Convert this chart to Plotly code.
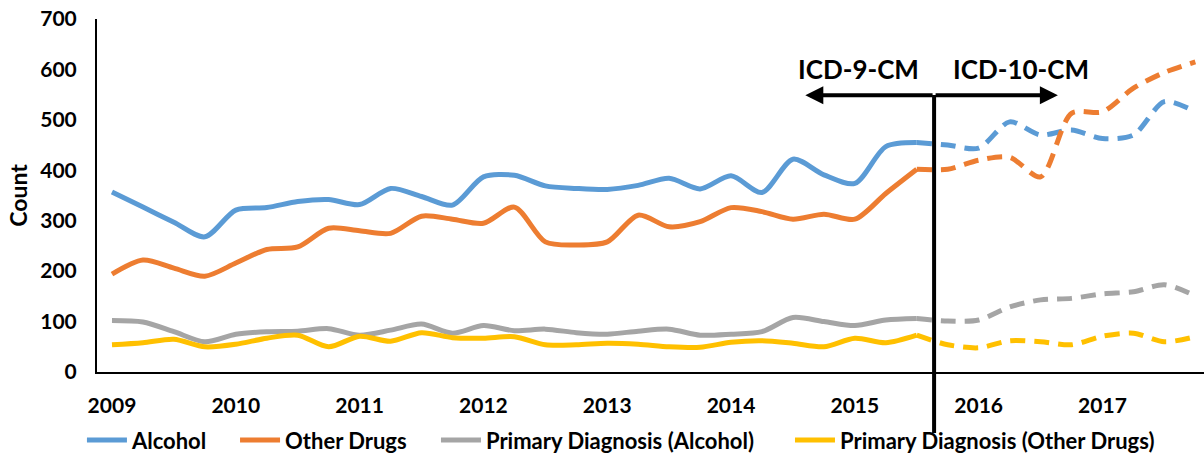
import plotly.graph_objects as go

# Quarterly data, 2009 Q1 .. 2017 Q4
quarters = [2009 + i / 4 for i in range(36)]
year_ticks = [2009, 2010, 2011, 2012, 2013, 2014, 2015, 2016, 2017]
year_labels = ["2009", "2010", "2011", "2012", "2013", "2014", "2015", "2016", "2017"]
y_ticks = [0, 100, 200, 300, 400, 500, 600, 700]

alcohol = [357, 327, 297, 268, 321, 326, 338, 342, 332, 364, 348, 331,
           387, 390, 369, 364, 362, 370, 384, 363, 389, 356, 422, 391,
           374, 447, 455, 450, 444, 496, 470, 480, 463, 470, 536, 516]
other_drugs = [194, 222, 206, 190, 216, 243, 248, 285, 280, 275, 309, 303,
               295, 327, 258, 252, 258, 311, 288, 298, 326, 318, 303, 313,
               303, 354, 402, 402, 420, 426, 387, 513, 516, 563, 594, 615]
primary_alcohol = [102, 99, 80, 60, 75, 80, 81, 86, 73, 83, 95, 77,
                   92, 82, 85, 78, 75, 81, 85, 73, 75, 80, 108, 100,
                   92, 103, 106, 101, 103, 129, 143, 146, 155, 159, 173, 151]
primary_other = [54, 58, 65, 50, 55, 67, 73, 50, 71, 61, 78, 68,
                 67, 70, 54, 54, 57, 55, 50, 49, 59, 62, 57, 50,
                 67, 58, 73, 54, 48, 62, 60, 54, 71, 77, 60, 70]

series = [
    ("Alcohol", alcohol, "#5B9BD5"),
    ("Other Drugs", other_drugs, "#ED7D31"),
    ("Primary Diagnosis (Alcohol)", primary_alcohol, "#A5A5A5"),
    ("Primary Diagnosis (Other Drugs)", primary_other, "#FFC000"),
]
split = 26  # last ICD-9-CM quarter (2015 Q3)
icd_change = 2015.64
arrow_left, arrow_right, arrow_y = 2014.60, 2016.64, 549

FONT = "Lato"
legend_ids = ["legend", "legend2", "legend3", "legend4"]
legend_x = [-0.0136, 0.1247, 0.3062, 0.626]

fig = go.Figure()
for (name, vals, color), lid in zip(series, legend_ids):
    fig.add_trace(go.Scatter(
        x=quarters[:split + 1], y=vals[:split + 1], name=name, mode="lines",
        line=dict(color=color, width=5, shape="spline", smoothing=0.8),
        showlegend=True, legend=lid))
for name, vals, color in series:
    fig.add_trace(go.Scatter(
        x=quarters[split:], y=vals[split:], name=name, mode="lines",
        line=dict(color=color, width=5, shape="spline", smoothing=0.8, dash="15px,9px"),
        showlegend=False))

fig.add_shape(type="line", xref="x", yref="paper", x0=icd_change, x1=icd_change,
              y0=-0.173, y1=0.785, line=dict(color="black", width=4))
for tip in (arrow_left, arrow_right):
    fig.add_annotation(x=tip, y=arrow_y, ax=icd_change, ay=arrow_y, xref="x", yref="y",
                       axref="x", ayref="y", text="", showarrow=True, arrowhead=2,
                       arrowsize=0.9, arrowwidth=4, arrowcolor="black")
fig.add_annotation(x=2015.03, y=600, text="ICD-9-CM", showarrow=False,
                   font=dict(family=FONT, size=26, color="black", weight="bold"))
fig.add_annotation(x=2016.34, y=600, text="ICD-10-CM", showarrow=False,
                   font=dict(family=FONT, size=26, color="black", weight="bold"))

legends = {}
for lid, lx in zip(legend_ids, legend_x):
    legends[lid] = dict(orientation="h", x=lx, y=-0.193, xanchor="left", yanchor="middle",
                        font=dict(family=FONT, size=22, weight="bold"), itemwidth=40,
                        bgcolor="rgba(0,0,0,0)")

fig.update_layout(
    width=1204, height=456,
    margin=dict(l=97, r=0, t=19, b=84, autoexpand=False),
    plot_bgcolor="white", paper_bgcolor="white",
    font=dict(family=FONT, size=21, color="black", weight="bold"),
    xaxis=dict(range=[2008.879, 2017.82], tickvals=year_ticks, ticktext=year_labels,
               showgrid=False, zeroline=False, showline=True, linecolor="black",
               linewidth=2, ticks="", ticklabelstandoff=14,
               tickfont=dict(family=FONT, size=21, weight="bold")),
    yaxis=dict(range=[0, 700], tickvals=y_ticks, showgrid=False, zeroline=False,
               showline=True, linecolor="black", linewidth=2, ticks="",
               ticklabelstandoff=14,
               tickfont=dict(family=FONT, size=21, weight="bold"),
               title=dict(text="Count", standoff=6,
                          font=dict(family=FONT, size=23, weight="bold"))),
    showlegend=True,
    **legends,
)
fig.write_html("out.html", config={"displayModeBar": False},
               post_script="document.body.style.margin='0';document.body.style.overflow='hidden';")
